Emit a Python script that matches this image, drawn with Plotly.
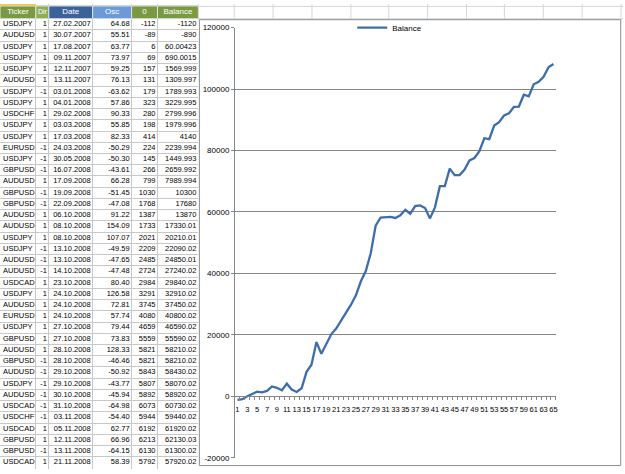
import plotly.graph_objects as go

# ---------------- data ----------------
tickers = ["USDJPY", "AUDUSD", "USDJPY", "USDJPY", "USDJPY", "AUDUSD", "USDJPY", "USDJPY",
           "USDCHF", "USDJPY", "USDJPY", "EURUSD", "USDJPY", "GBPUSD", "AUDUSD", "GBPUSD",
           "GBPUSD", "AUDUSD", "AUDUSD", "USDJPY", "USDJPY", "AUDUSD", "AUDUSD", "USDCAD",
           "USDJPY", "AUDUSD", "EURUSD", "USDJPY", "GBPUSD", "AUDUSD", "GBPUSD", "AUDUSD",
           "USDJPY", "AUDUSD", "USDCAD", "USDCHF", "USDCAD", "GBPUSD", "GBPUSD", "USDCAD"]
dirs = [1, 1, 1, 1, 1, 1, -1, 1, 1, 1, 1, -1, -1, -1, 1, -1, -1, 1, 1, 1,
        -1, -1, -1, 1, 1, 1, 1, 1, 1, 1, -1, -1, -1, -1, -1, -1, 1, 1, -1, 1]
dates = ["27.02.2007", "30.07.2007", "17.08.2007", "09.11.2007", "12.11.2007", "13.11.2007",
         "03.01.2008", "04.01.2008", "29.02.2008", "03.03.2008", "17.03.2008", "24.03.2008",
         "30.05.2008", "16.07.2008", "17.09.2008", "19.09.2008", "22.09.2008", "06.10.2008",
         "08.10.2008", "08.10.2008", "13.10.2008", "13.10.2008", "14.10.2008", "23.10.2008",
         "24.10.2008", "24.10.2008", "24.10.2008", "27.10.2008", "27.10.2008", "28.10.2008",
         "28.10.2008", "29.10.2008", "29.10.2008", "30.10.2008", "31.10.2008", "03.11.2008",
         "05.11.2008", "12.11.2008", "13.11.2008", "21.11.2008"]
osc = ["64.68", "55.51", "63.77", "73.97", "59.25", "76.13", "-63.62", "57.86", "90.33", "55.85",
       "82.33", "-50.29", "-50.30", "-43.61", "66.28", "-51.45", "-47.08", "91.22", "154.09",
       "107.07", "-49.59", "-47.65", "-47.48", "80.40", "126.58", "72.81", "57.74", "79.44",
       "73.83", "128.33", "-46.46", "-50.92", "-43.77", "-45.94", "-64.98", "-54.40", "62.77",
       "66.96", "-64.15", "58.39"]
o_col = [-112, -89, 6, 69, 157, 131, 179, 323, 280, 198, 414, 224, 145, 266, 799, 1030, 1768,
         1387, 1733, 2021, 2209, 2485, 2724, 2984, 3291, 3745, 4080, 4659, 5559, 5821, 5821,
         5843, 5807, 5892, 6073, 5944, 6192, 6213, 6130, 5792]
balance_txt = ["-1120", "-890", "60.00423", "690.0015", "1569.999", "1309.997", "1789.993",
               "3229.995", "2799.996", "1979.996", "4140", "2239.994", "1449.993", "2659.992",
               "7989.994", "10300", "17680", "13870", "17330.01", "20210.01", "22090.02",
               "24850.01", "27240.02", "29840.02", "32910.02", "37450.02", "40800.02",
               "46590.02", "55590.02", "58210.02", "58210.02", "58430.02", "58070.02",
               "58920.02", "60730.02", "59440.02", "61920.02", "62130.03", "61300.02",
               "57920.02"]
# rows beyond the visible table
balance_more = [61500, 68400, 68400, 74100, 72000, 72000, 73800, 76800, 77560, 79800,
                84000, 83700, 88100, 89200, 91400, 92100, 94200, 94300, 98140, 97600,
                101540, 102350, 104000, 107100, 108150]
headers = ["Ticker", "Dir", "Date", "Osc", "0", "Balance"]
header_colors = ["#7A9A42", "#8FAE52", "#3B639A", "#6B9AD6", "#7A9A42", "#7A9A42"]
y_ticks = [-20000, 0, 20000, 40000, 60000, 80000, 100000, 120000]

balance = [float(s) for s in balance_txt] + balance_more
x_idx = list(range(1, len(balance) + 1))

W, H = 625, 474
def px(x):
    return x / W
def py(y):
    return 1 - y / H

FONT = "Liberation Sans"

# table geometry (table axes are in screen pixels)
col_edges = [0, 36, 49, 93, 132, 158, 199]
head_top, head_bot, row_h = 2, 15, 11.45
n_rows = len(tickers)
row_edges = [head_top, head_bot] + [head_bot + row_h * (i + 1) for i in range(n_rows)]
row_mid = [head_bot + row_h * (i + 0.5) for i in range(n_rows)]
head_mid = (head_top + head_bot) / 2

fig = go.Figure()

# ---------------- table as text traces on pixel-scaled axes ----------------
columns = [
    (tickers, col_edges[0] + 3, "middle right"),
    ([str(d) for d in dirs], col_edges[2] - 2, "middle left"),
    (dates, col_edges[3] - 2, "middle left"),
    (osc, col_edges[4] - 2, "middle left"),
    ([str(v) for v in o_col], col_edges[5] - 2, "middle left"),
    (balance_txt, col_edges[6] - 2, "middle left"),
]
for vals, xa, tp in columns:
    fig.add_trace(go.Scatter(
        x=[xa] * len(vals), y=row_mid, text=vals, mode="text", textposition=tp,
        textfont=dict(family=FONT, size=7.5, color="black"),
        xaxis="x2", yaxis="y2", showlegend=False, hoverinfo="skip", cliponaxis=False,
    ))
fig.add_trace(go.Scatter(
    x=[(col_edges[i] + col_edges[i + 1]) / 2 for i in range(len(headers))],
    y=[head_mid] * len(headers), text=headers, mode="text", textposition="middle center",
    textfont=dict(family=FONT, size=[8, 7, 8, 8, 8, 8], color="white"),
    xaxis="x2", yaxis="y2", showlegend=False, hoverinfo="skip", cliponaxis=False,
))

# ---------------- chart ----------------
fig.add_trace(go.Scatter(
    x=x_idx, y=balance, mode="lines", name="Balance",
    line=dict(color="#3D6EAA", width=2.3),
    showlegend=True,
))

shapes = []
grid_c = "#D4D7DC"
for gx in [199, 235, 274, 313, 352, 390, 429, 468, 506, 545, 584, 623]:
    shapes.append(dict(type="line", xref="paper", yref="paper", x0=px(gx), x1=px(gx),
                       y0=py(0), y1=py(16), line=dict(color=grid_c, width=1), layer="below"))
for gy in [2.5, 15]:
    shapes.append(dict(type="line", xref="paper", yref="paper", x0=px(199), x1=1,
                       y0=py(gy), y1=py(gy), line=dict(color=grid_c, width=1), layer="below"))
# chart area
shapes.append(dict(type="rect", xref="paper", yref="paper", x0=px(200), x1=px(622.7),
                   y0=py(470.5), y1=py(16), fillcolor="white",
                   line=dict(color="#8C8C8C", width=1), layer="below"))
# header cells
for i, c in enumerate(header_colors):
    shapes.append(dict(type="rect", xref="x2", yref="y2", x0=col_edges[i], x1=col_edges[i + 1],
                       y0=head_top, y1=head_bot, fillcolor=c,
                       line=dict(color="#E2E2E2", width=1), layer="between"))
# selected-cell accent on the first header cell
shapes.append(dict(type="line", xref="x2", yref="y2", x0=0, x1=col_edges[1],
                   y0=0.8, y1=0.8, line=dict(color="#F2C94C", width=2), layer="between"))

x_dom = [px(235.7), px(557.7)]
y_dom = [py(462.7), py(24)]
zero_pos = py(399.3)

fig.update_layout(
    width=W, height=H,
    margin=dict(l=0, r=0, t=0, b=0),
    paper_bgcolor="white",
    plot_bgcolor="rgba(0,0,0,0)",
    font=dict(family=FONT, size=8, color="black"),
    shapes=shapes,
    showlegend=True,
    hovermode=False,
    legend=dict(orientation="h", x=px(391), y=py(24), xanchor="center", yanchor="middle",
                bgcolor="rgba(0,0,0,0)", font=dict(family=FONT, size=8, color="black"),
                itemwidth=30),
    xaxis=dict(
        domain=x_dom, range=[0.5, len(balance) + 0.5],
        anchor="free", position=zero_pos,
        tickmode="array", tickvals=x_idx[::2], ticktext=[str(v) for v in x_idx[::2]],
        tickangle=0, ticks="outside", ticklen=6, tickcolor="rgba(0,0,0,0)",
        tickfont=dict(family=FONT, size=7.5, color="black"),
        showline=True, linecolor="#868686", linewidth=1,
        showgrid=False, zeroline=False,
        minor=dict(tickmode="array", tickvals=[i + 0.5 for i in range(0, len(balance) + 1)],
                   ticks="outside", ticklen=3, tickcolor="#868686", showgrid=False),
    ),
    yaxis=dict(
        domain=y_dom, range=[-20000, 120000],
        tickmode="array", tickvals=y_ticks, ticktext=[str(v) for v in y_ticks],
        ticks="outside", ticklen=3, tickcolor="#868686",
        tickfont=dict(family=FONT, size=8, color="black"),
        showgrid=True, gridcolor="#868686", gridwidth=1,
        showline=True, linecolor="#868686", linewidth=1,
        zeroline=False,
    ),
    xaxis2=dict(
        domain=[0, px(199)], range=[0, 199], anchor="y2",
        tickmode="array", tickvals=col_edges, showticklabels=False, ticks="",
        showgrid=True, gridcolor="#C8C8C8", gridwidth=1, zeroline=False, showline=False,
    ),
    yaxis2=dict(
        domain=[0, 1], range=[H, 0], anchor="x2",
        tickmode="array", tickvals=row_edges, showticklabels=False, ticks="",
        showgrid=True, gridcolor="#C8C8C8", gridwidth=1, zeroline=False, showline=False,
    ),
)

fig.write_html("out.html")
